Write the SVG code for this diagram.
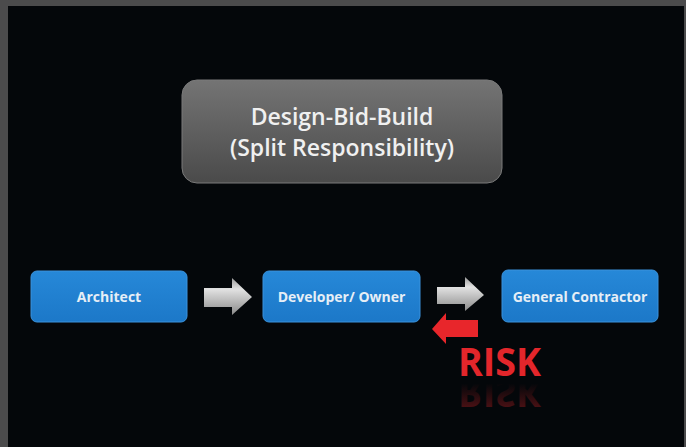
<svg xmlns="http://www.w3.org/2000/svg" width="686" height="447" viewBox="0 0 686 447">
  <defs>
    <linearGradient id="gTitle" x1="0" y1="0" x2="0" y2="1">
      <stop offset="0" stop-color="#747474"/>
      <stop offset="1" stop-color="#4a4a4a"/>
    </linearGradient>
    <linearGradient id="gBlue" x1="0" y1="0" x2="0" y2="1">
      <stop offset="0" stop-color="#2688d8"/>
      <stop offset="1" stop-color="#1c78c8"/>
    </linearGradient>
    <linearGradient id="gArrow" x1="0" y1="0" x2="0" y2="1">
      <stop offset="0" stop-color="#9a9a9a"/>
      <stop offset="0.3" stop-color="#e2e2e2"/>
      <stop offset="1" stop-color="#8a8a8a"/>
    </linearGradient>
    <linearGradient id="gRefl" x1="0" y1="0" x2="0" y2="1">
      <stop offset="0" stop-color="#e3262b" stop-opacity="0.5"/>
      <stop offset="0.7" stop-color="#e3262b" stop-opacity="0"/>
    </linearGradient>
    <style>
      .frame { fill: #4b4b4c; }
      .bg { fill: #04070a; }
      .title { fill: url(#gTitle); stroke: #7a7a7a; stroke-width: 1; }
      .titleText { font-family: "Open Sans", "Noto Sans", sans-serif; font-weight: 600; font-size: 23px; fill: #f0f0f0; text-anchor: middle; }
      .box { fill: url(#gBlue); stroke: #3a92dc; stroke-width: 1; }
      .boxText { font-family: "Open Sans", "Noto Sans", sans-serif; font-weight: 700; font-size: 14px; fill: #e6eef6; text-anchor: middle; }
      .garrow { fill: url(#gArrow); }
      .rarrow { fill: #e8262b; }
      .risk { font-family: "Open Sans", "Noto Sans", sans-serif; font-weight: 700; font-size: 40px; fill: #e3262b; }
    </style>
  </defs>

  <rect class="frame" x="0" y="0" width="686" height="447"/>
  <rect class="bg" x="8" y="6" width="676" height="441"/>

  <g id="title">
    <rect class="title" x="182" y="80" width="320" height="103" rx="15" ry="15"/>
    <text class="titleText" x="342" y="125">Design-Bid-Build</text>
    <text class="titleText" x="342" y="156">(Split Responsibility)</text>
  </g>

  <g id="architect">
    <rect class="box" x="31" y="271" width="156" height="51" rx="6" ry="6"/>
    <text class="boxText" x="109" y="302">Architect</text>
  </g>

  <g id="developer">
    <rect class="box" x="263" y="271" width="157" height="51" rx="6" ry="6"/>
    <text class="boxText" x="341.5" y="302">Developer/ Owner</text>
  </g>

  <g id="contractor">
    <rect class="box" x="502" y="270" width="156" height="52" rx="6" ry="6"/>
    <text class="boxText" x="580" y="302">General Contractor</text>
  </g>

  <g id="connectors">
    <polygon class="garrow" points="204,288 232,288 232,278 252,297 232,315 232,307 204,307"/>
    <polygon class="garrow" points="437,287 465,287 465,277 484,295 465,311 465,304 437,304"/>
    <polygon class="rarrow" points="478,320 446,320 446,313 432,329 446,344 446,337 478,337"/>
  </g>

  <g id="risk">
    <text class="risk" x="458" y="376" textLength="83" lengthAdjust="spacingAndGlyphs">RISK</text>
    <text class="risk" x="458" y="-379" textLength="83" lengthAdjust="spacingAndGlyphs" transform="scale(1,-1)" style="fill:url(#gRefl)">RISK</text>
  </g>
</svg>
